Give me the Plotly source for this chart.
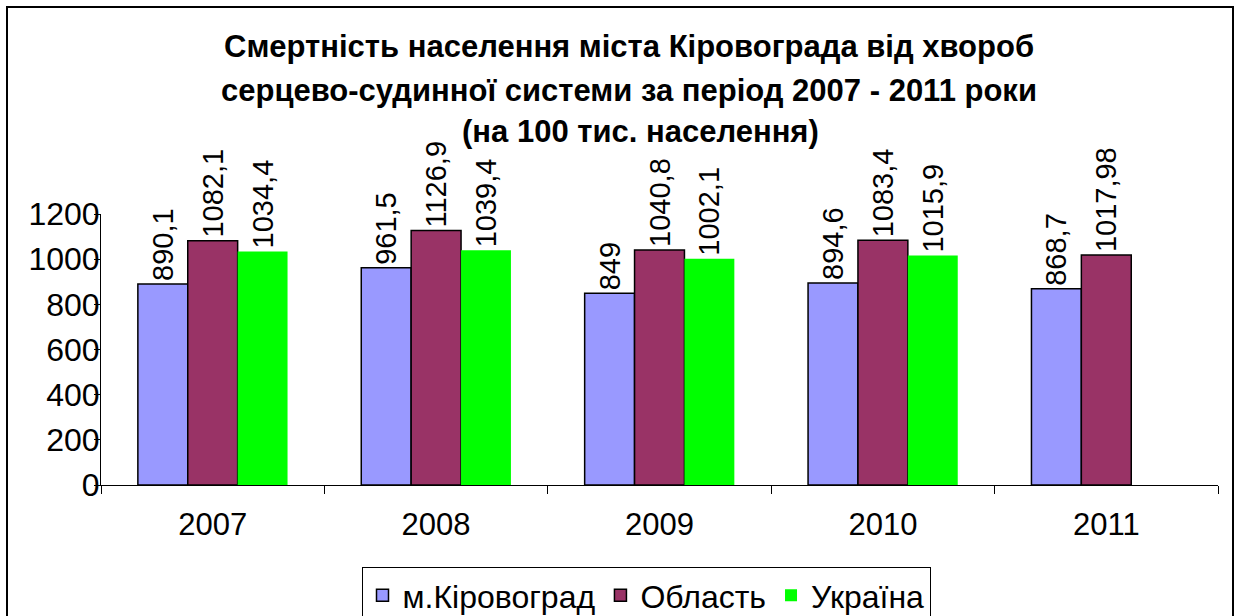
import plotly.graph_objects as go

years = ["2007", "2008", "2009", "2010", "2011"]
kirovohrad = [890.1, 961.5, 849, 894.6, 868.7]
oblast = [1082.1, 1126.9, 1040.8, 1083.4, 1017.98]
ukraine = [1034.4, 1039.4, 1002.1, 1015.9, None]
series_names = ["м.Кіровоград", "Область", "Україна"]
series_colors = ["#9999FF", "#993366", "#00FF00"]
title_lines = [
    "Смертність населення міста Кіровограда від хвороб",
    "серцево-судинної системи за період 2007 - 2011 роки",
    "(на 100 тис. населення)",
]
y_ticks = [0, 200, 400, 600, 800, 1000, 1200]

FONT = "Liberation Sans, Arial, sans-serif"


def fmt(v):
    if v is None:
        return ""
    return ("%g" % v).replace(".", ",")


fig = go.Figure()
for name, vals, col in zip(series_names, [kirovohrad, oblast, ukraine], series_colors):
    outline = 0 if col == "#00FF00" else 1.5
    fig.add_trace(go.Bar(
        x=years, y=vals, name=name,
        marker=dict(color=col, line=dict(color="black", width=outline)),
        text=[fmt(v) for v in vals],
        textposition="outside", textangle=-90,
        textfont=dict(family=FONT, size=29, color="black"),
        constraintext="none", cliponaxis=False,
    ))

L, R, T, B = 101, 19, 214, 131
W, H = 1237, 616
pw = W - L - R
ph = H - T - B


def px_x(px):
    return (px - L) / pw


def px_y(py):
    return (H - B - py) / ph


annotations = []
for line, cx, cy in zip(title_lines, [629, 629, 640], [47, 90, 131]):
    annotations.append(dict(
        text="<b>%s</b>" % line, x=px_x(cx), y=px_y(cy), xref="paper", yref="paper",
        xanchor="center", yanchor="middle", showarrow=False,
        font=dict(family=FONT, size=31, color="black"),
    ))

fig.update_layout(
    width=W, height=H,
    margin=dict(l=L, r=R, t=T, b=B, pad=0, autoexpand=False),
    paper_bgcolor="white", plot_bgcolor="white",
    barmode="group", bargap=0.33, bargroupgap=0,
    font=dict(family=FONT, size=31, color="black"),
    showlegend=True,
    legend=dict(
        orientation="h", x=px_x(646), y=px_y(567), xanchor="center", yanchor="top",
        bordercolor="black", borderwidth=1, bgcolor="white",
        font=dict(family=FONT, size=32, color="black"),
        itemwidth=30, tracegroupgap=0,
    ),
    annotations=annotations,
    shapes=[dict(
        type="rect", xref="paper", yref="paper",
        x0=px_x(7), x1=px_x(1233), y0=px_y(622), y1=px_y(7),
        line=dict(color="black", width=2), layer="below",
    )],
    xaxis=dict(
        showline=True, linecolor="black", linewidth=1,
        ticks="outside", ticklen=8, tickcolor="black", tickson="boundaries",
        tickfont=dict(family=FONT, size=31, color="black"),
        showgrid=False, zeroline=False, ticklabelstandoff=12,
    ),
    yaxis=dict(
        range=[0, 1200], tickvals=y_ticks,
        showline=True, linecolor="black", linewidth=1,
        ticks="outside", ticklen=6, tickcolor="black",
        tickfont=dict(family=FONT, size=32, color="black"),
        showgrid=False, zeroline=False, ticklabelstandoff=-12,
    ),
)

fig.write_html(
    "out.html",
    config={"displayModeBar": False},
    post_script="document.body.style.margin='0';document.body.style.overflow='hidden';",
)
